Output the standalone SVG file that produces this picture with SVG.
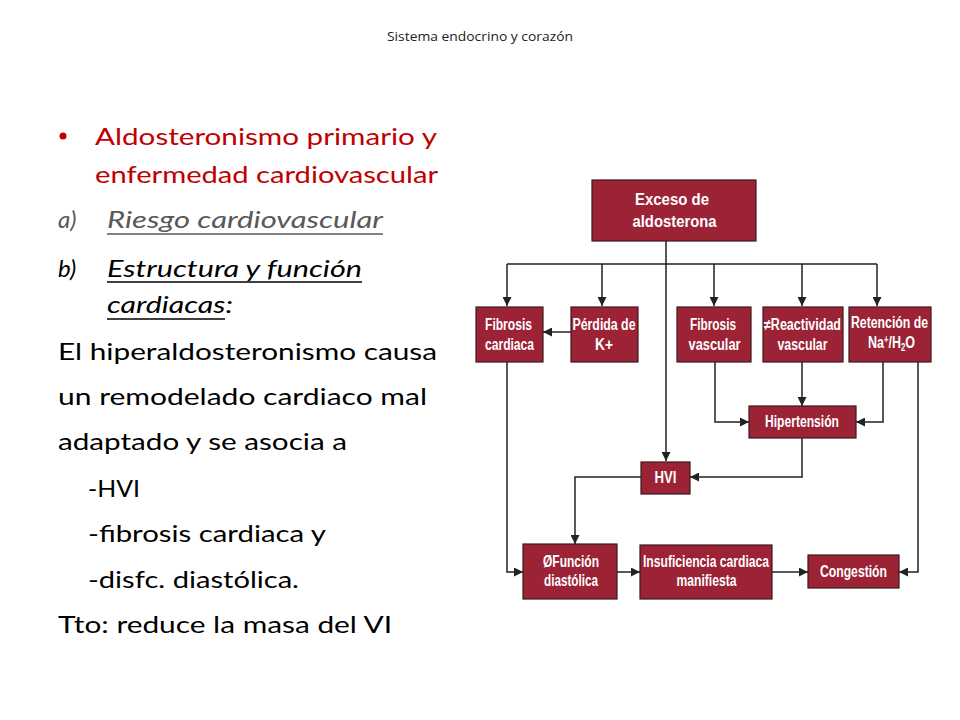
<svg xmlns="http://www.w3.org/2000/svg" width="960" height="720" viewBox="0 0 960 720">
<defs>
<marker id="ah" viewBox="0 0 10 10" refX="10" refY="5" markerWidth="9" markerHeight="9" markerUnits="userSpaceOnUse" orient="auto">
<path d="M0,0 L10,5 L0,10 z" fill="#222"/>
</marker>
<style>
.box{fill:#9c2236;stroke:#3a1a1e;stroke-width:1.2}
.bt{font-family:"Liberation Sans Narrow","Liberation Sans",Arial,sans-serif;font-weight:bold;fill:#fff;font-size:16px}
.ln{fill:none;stroke:#222;stroke-width:1.5}
.ar{marker-end:url(#ah)}
.tx{font-family:Lato,"Open Sans",sans-serif;font-size:24px;fill:#000}
.red{fill:#c00000}
.gray{fill:#595959}
.hdr{font-family:"Open Sans",Lato,sans-serif;font-size:12px;fill:#222}
</style>
</defs>
<rect width="960" height="720" fill="#fff"/>
<text class="hdr" x="480" y="41" text-anchor="middle" textLength="186" lengthAdjust="spacingAndGlyphs">Sistema endocrino y corazón</text>

<g id="left-text">
<circle cx="63" cy="136" r="3.5" fill="#c00000"/>
<text class="tx red" x="95" y="145" textLength="342" lengthAdjust="spacingAndGlyphs">Aldosteronismo primario y</text>
<text class="tx red" x="95" y="183" textLength="343" lengthAdjust="spacingAndGlyphs">enfermedad cardiovascular</text>
<text class="tx gray" x="58" y="228" font-style="italic">a)</text>
<text class="tx gray" x="107" y="228" font-style="italic" textLength="276" lengthAdjust="spacingAndGlyphs">Riesgo cardiovascular</text>
<line x1="107" y1="234" x2="383" y2="234" stroke="#595959" stroke-width="1.5"/>
<text class="tx" x="58" y="277" font-style="italic">b)</text>
<text class="tx" x="107" y="277" font-style="italic" textLength="255" lengthAdjust="spacingAndGlyphs">Estructura y función</text>
<line x1="107" y1="282" x2="362" y2="282" stroke="#000" stroke-width="1.5"/>
<text class="tx" x="107" y="313" font-style="italic" textLength="126" lengthAdjust="spacingAndGlyphs">cardiacas:</text>
<line x1="107" y1="319" x2="225" y2="319" stroke="#000" stroke-width="1.5"/>
<text class="tx" x="58" y="360" textLength="379" lengthAdjust="spacingAndGlyphs">El hiperaldosteronismo causa</text>
<text class="tx" x="58" y="405" textLength="369" lengthAdjust="spacingAndGlyphs">un remodelado cardiaco mal</text>
<text class="tx" x="58" y="450" textLength="289" lengthAdjust="spacingAndGlyphs">adaptado y se asocia a</text>
<text class="tx" x="88" y="497" textLength="52" lengthAdjust="spacingAndGlyphs">-HVI</text>
<text class="tx" x="88" y="542" textLength="238" lengthAdjust="spacingAndGlyphs">-fibrosis cardiaca y</text>
<text class="tx" x="88" y="588" textLength="211" lengthAdjust="spacingAndGlyphs">-disfc. diastólica.</text>
<text class="tx" x="58" y="633" textLength="334" lengthAdjust="spacingAndGlyphs">Tto: reduce la masa del VI</text>
</g>

<g id="connectors">
<path class="ln ar" d="M666,241 V461"/>
<path class="ln" d="M507,264 H877"/>
<path class="ln ar" d="M507,264 V306"/>
<path class="ln ar" d="M602,264 V306"/>
<path class="ln ar" d="M714,264 V306"/>
<path class="ln ar" d="M802,264 V306"/>
<path class="ln ar" d="M877,264 V306"/>
<path class="ln ar" d="M571,332 H543"/>
<path class="ln ar" d="M507,362 V572 H523"/>
<path class="ln ar" d="M715,362 V422 H749"/>
<path class="ln ar" d="M802,362 V406"/>
<path class="ln ar" d="M883,362 V422 H856"/>
<path class="ln ar" d="M918,362 V572 H899"/>
<path class="ln ar" d="M802,438 V477 H690"/>
<path class="ln ar" d="M641,477 H575 V544"/>
<path class="ln ar" d="M617,572 H640"/>
<path class="ln ar" d="M772,572 H808"/>
</g>

<g id="n-exceso">
<rect class="box" x="592" y="180" width="164" height="61"/>
<text class="bt" x="672" y="205" text-anchor="middle" font-size="19" textLength="74" lengthAdjust="spacingAndGlyphs">Exceso de</text>
<text class="bt" x="674.5" y="227" text-anchor="middle" font-size="19" textLength="84" lengthAdjust="spacingAndGlyphs">aldosterona</text>
</g>
<g id="n-fibcard">
<rect class="box" x="476" y="307" width="67" height="55"/>
<text class="bt" x="508.5" y="330" text-anchor="middle" textLength="47" lengthAdjust="spacingAndGlyphs">Fibrosis</text>
<text class="bt" x="509.5" y="350" text-anchor="middle" textLength="49" lengthAdjust="spacingAndGlyphs">cardiaca</text>
</g>
<g id="n-perdida">
<rect class="box" x="571" y="307" width="67" height="55"/>
<text class="bt" x="604" y="330" text-anchor="middle" textLength="63" lengthAdjust="spacingAndGlyphs">Pérdida de</text>
<text class="bt" x="604" y="350" text-anchor="middle" textLength="18" lengthAdjust="spacingAndGlyphs">K+</text>
</g>
<g id="n-fibvasc">
<rect class="box" x="677" y="307" width="74" height="55"/>
<text class="bt" x="713" y="330" text-anchor="middle" textLength="46" lengthAdjust="spacingAndGlyphs">Fibrosis</text>
<text class="bt" x="714.5" y="350" text-anchor="middle" textLength="52" lengthAdjust="spacingAndGlyphs">vascular</text>
</g>
<g id="n-react">
<rect class="box" x="763" y="307" width="80" height="55"/>
<text class="bt" x="802.5" y="330" text-anchor="middle" textLength="77" lengthAdjust="spacingAndGlyphs">≠Reactividad</text>
<text class="bt" x="802.5" y="350" text-anchor="middle" textLength="50" lengthAdjust="spacingAndGlyphs">vascular</text>
</g>
<g id="n-retencion">
<rect class="box" x="849" y="307" width="82" height="55"/>
<text class="bt" x="889.5" y="328" text-anchor="middle" textLength="77" lengthAdjust="spacingAndGlyphs">Retención de</text>
<text class="bt" x="868" y="348" textLength="47" lengthAdjust="spacingAndGlyphs">Na<tspan font-size="10" dy="-5">+</tspan><tspan dy="5">/H</tspan><tspan font-size="10" dy="3">2</tspan><tspan dy="-3">O</tspan></text>
</g>
<g id="n-hiper">
<rect class="box" x="749" y="406" width="107" height="32"/>
<text class="bt" x="802" y="427" text-anchor="middle" textLength="74" lengthAdjust="spacingAndGlyphs">Hipertensión</text>
</g>
<g id="n-hvi">
<rect class="box" x="641" y="462" width="49" height="32"/>
<text class="bt" x="665.5" y="483" text-anchor="middle" textLength="22" lengthAdjust="spacingAndGlyphs">HVI</text>
</g>
<g id="n-funcion">
<rect class="box" x="523" y="544" width="94" height="55"/>
<text class="bt" x="571" y="567" text-anchor="middle" textLength="56" lengthAdjust="spacingAndGlyphs">ØFunción</text>
<text class="bt" x="571" y="586" text-anchor="middle" textLength="54" lengthAdjust="spacingAndGlyphs">diastólica</text>
</g>
<g id="n-insuf">
<rect class="box" x="640" y="545" width="132" height="54"/>
<text class="bt" x="706" y="567" text-anchor="middle" textLength="126" lengthAdjust="spacingAndGlyphs">Insuficiencia cardiaca</text>
<text class="bt" x="706.5" y="586" text-anchor="middle" textLength="60" lengthAdjust="spacingAndGlyphs">manifiesta</text>
</g>
<g id="n-congestion">
<rect class="box" x="808" y="555" width="91" height="33"/>
<text class="bt" x="853.5" y="577" text-anchor="middle" textLength="67" lengthAdjust="spacingAndGlyphs">Congestión</text>
</g>
</svg>
